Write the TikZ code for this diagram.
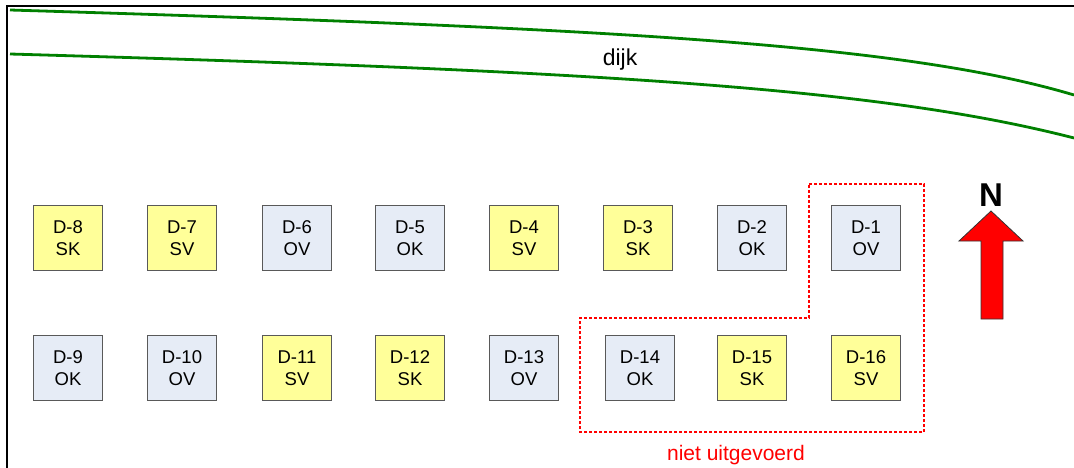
\documentclass[tikz,border=0pt]{standalone}
\usepackage{fontspec}
\setmainfont{Liberation Sans}
\usepackage{tikz}
\usetikzlibrary{calc}
\definecolor{vakgeel}{HTML}{FFFF99}
\definecolor{vakblauw}{HTML}{E6ECF6}
\definecolor{dijkgroen}{HTML}{008000}
\tikzset{
  vak/.style={draw=black!65,line width=1pt,minimum width=69pt,minimum height=65pt,
    inner sep=0pt,align=center,font=\fontsize{18.5}{22}\selectfont},
  geel/.style={vak,fill=vakgeel},
  blauw/.style={vak,fill=vakblauw},
  dijklijn/.style={dijkgroen,line width=2.8pt},
  grens/.style={red,line width=1.8pt,dash pattern=on 3pt off 2pt}
}
\begin{document}
\begin{tikzpicture}[x=1pt,y=-1pt]
  \useasboundingbox (0,0) rectangle (1074,468);
  % kader
  \draw[line width=2pt] (7,468) -- (7,6.5) -- (1074,6.5);

  % dijk
  \draw[dijklijn] (10,10) .. controls (600,28) and (900,43) .. (1074,95);
  \draw[dijklijn] (10,54) .. controls (600,71) and (880,88) .. (1074,138);
  \node[font=\fontsize{23}{26}\selectfont] (dijk) at (620,60) {dijk};

  % bovenste rij
  \node[geel]  (D8) at (68,238)  {D-8\\SK};
  \node[geel]  (D7) at (182,238) {D-7\\SV};
  \node[blauw] (D6) at (297,238) {D-6\\OV};
  \node[blauw] (D5) at (410,238) {D-5\\OK};
  \node[geel]  (D4) at (524,238) {D-4\\SV};
  \node[geel]  (D3) at (638,238) {D-3\\SK};
  \node[blauw] (D2) at (752,238) {D-2\\OK};
  \node[blauw] (D1) at (866,238) {D-1\\OV};

  % onderste rij
  \node[blauw] (D9)  at (68,368)  {D-9\\OK};
  \node[blauw] (D10) at (182,368) {D-10\\OV};
  \node[geel]  (D11) at (297,368) {D-11\\SV};
  \node[geel]  (D12) at (410,368) {D-12\\SK};
  \node[blauw] (D13) at (524,368) {D-13\\OV};
  \node[blauw] (D14) at (640,368) {D-14\\OK};
  \node[geel]  (D15) at (752,368) {D-15\\SK};
  \node[geel]  (D16) at (866,368) {D-16\\SV};

  % niet uitgevoerd
  \draw[grens] (809,184) -- (924,184) -- (924,432) -- (580,432)
    -- (580,318) -- (809,318) -- cycle;
  \node[red,font=\fontsize{21}{24}\selectfont] (niet) at (736,455) {niet uitgevoerd};

  % noordpijl
  \draw[fill=red,draw=black!80,line width=0.8pt]
    (991,211) -- (1023,241) -- (1003,241) -- (1003,319)
    -- (981,319) -- (981,241) -- (959,241) -- cycle;
  \node[font=\fontsize{33}{36}\bfseries\selectfont] (N) at (991,195) {N};
\end{tikzpicture}
\end{document}
